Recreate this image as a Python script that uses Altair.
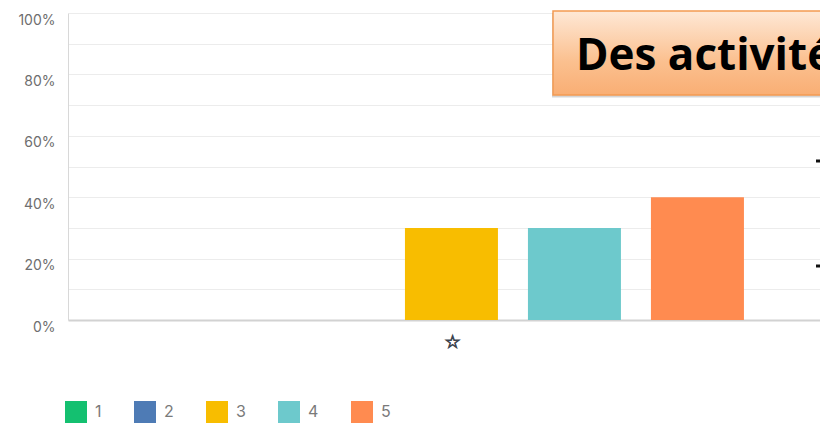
import altair as alt
import pandas as pd

categories = ["☆"]
series = ["1", "2", "3", "4", "5"]
values = [0.0, 0.0, 0.30, 0.30, 0.40]
colors = ["#14c070", "#4e7bb5", "#f8bd00", "#6dc9cc", "#ff8b50"]
y_ticks = [0, 0.1, 0.2, 0.3, 0.4, 0.5, 0.6, 0.7, 0.8, 0.9, 1.0]
callout_text = ["Des activités"]

df = pd.DataFrame({
    "cat": [categories[0]] * len(series),
    "series": series,
    "value": values,
})
cat_df = pd.DataFrame({"cat": categories})

x_enc = alt.X("cat:N",
              scale=alt.Scale(paddingInner=0, paddingOuter=0.01156, align=1),
              axis=alt.Axis(title=None, labels=False, ticks=False,
                            domainColor="#d2d2d2", domainWidth=2, grid=False))

bars = alt.Chart(df).mark_bar().encode(
    x=x_enc,
    xOffset=alt.XOffset("series:N",
                        scale=alt.Scale(paddingInner=0.2439, paddingOuter=0.6098, align=0.493)),
    y=alt.Y("value:Q",
            scale=alt.Scale(domain=[0, 1]),
            axis=alt.Axis(title=None, values=y_ticks, ticks=False, labelPadding=13,
                          labelExpr="round(datum.value*10) % 2 == 0 ? format(datum.value, '.0%') : ''",
                          labelOverlap=False, labelBaseline="top", labelFontSize=14,
                          labelColor="#6e6e6e", labelFont="Inter",
                          domainColor="#d8d8d8", gridColor="#ececec")),
    color=alt.Color("series:N",
                    scale=alt.Scale(domain=series, range=colors),
                    legend=alt.Legend(title=None, orient="none", legendX=-3, legendY=388,
                                      direction="horizontal", symbolType="square",
                                      symbolSize=484, symbolStrokeWidth=0, symbolOpacity=1,
                                      labelFontSize=16, labelColor="#7a7a7a", labelFont="Inter",
                                      labelOffset=8, columnPadding=32)),
)

cat_label = alt.Chart(cat_df).mark_text(
    baseline="middle", align="center", font="DejaVu Sans", fontSize=18,
    color="#3e4550", stroke="#3e4550", strokeWidth=0.9
).encode(x=alt.X("cat:N"), y=alt.value(329.5), text="cat:N")

shadow = alt.Chart(pd.DataFrame({"a": [0]})).mark_rect(color="#a0a0a0", opacity=0.45).encode(
    x=alt.value(484), x2=alt.value(900), y=alt.value(0), y2=alt.value(84.5)
)

box = alt.Chart(pd.DataFrame({"a": [0]})).mark_rect(
    color=alt.Gradient(gradient="linear", x1=0, y1=0, x2=0, y2=1,
                       stops=[alt.GradientStop(color="#fee8d6", offset=0),
                              alt.GradientStop(color="#fbc08f", offset=0.6),
                              alt.GradientStop(color="#f9ae74", offset=1)]),
    stroke="#f39a52", strokeWidth=1.5,
).encode(
    x=alt.value(485), x2=alt.value(900), y=alt.value(-2), y2=alt.value(82)
)

text = alt.Chart(pd.DataFrame({"t": callout_text})).mark_text(
    align="left", baseline="alphabetic", font="Open Sans", fontWeight="bold",
    fontSize=44, color="#000000"
).encode(x=alt.value(508), y=alt.value(57), text="t:N")

dash1 = alt.Chart(pd.DataFrame({"a": [0]})).mark_rule(color="#111", strokeWidth=3).encode(
    x=alt.value(748), x2=alt.value(752), y=alt.value(148)
)
dash2 = alt.Chart(pd.DataFrame({"a": [0]})).mark_rule(color="#111", strokeWidth=3).encode(
    x=alt.value(748), x2=alt.value(752), y=alt.value(253)
)

chart = alt.layer(bars, cat_label, shadow, box, text, dash1, dash2).properties(
    width=752, height=307,
    autosize=alt.AutoSizeParams(type="none"),
    padding={"left": 60, "top": 5, "right": 0, "bottom": 103},
).configure_view(stroke=None)

chart.save("out.html", embed_options={"renderer": "svg", "actions": False})
